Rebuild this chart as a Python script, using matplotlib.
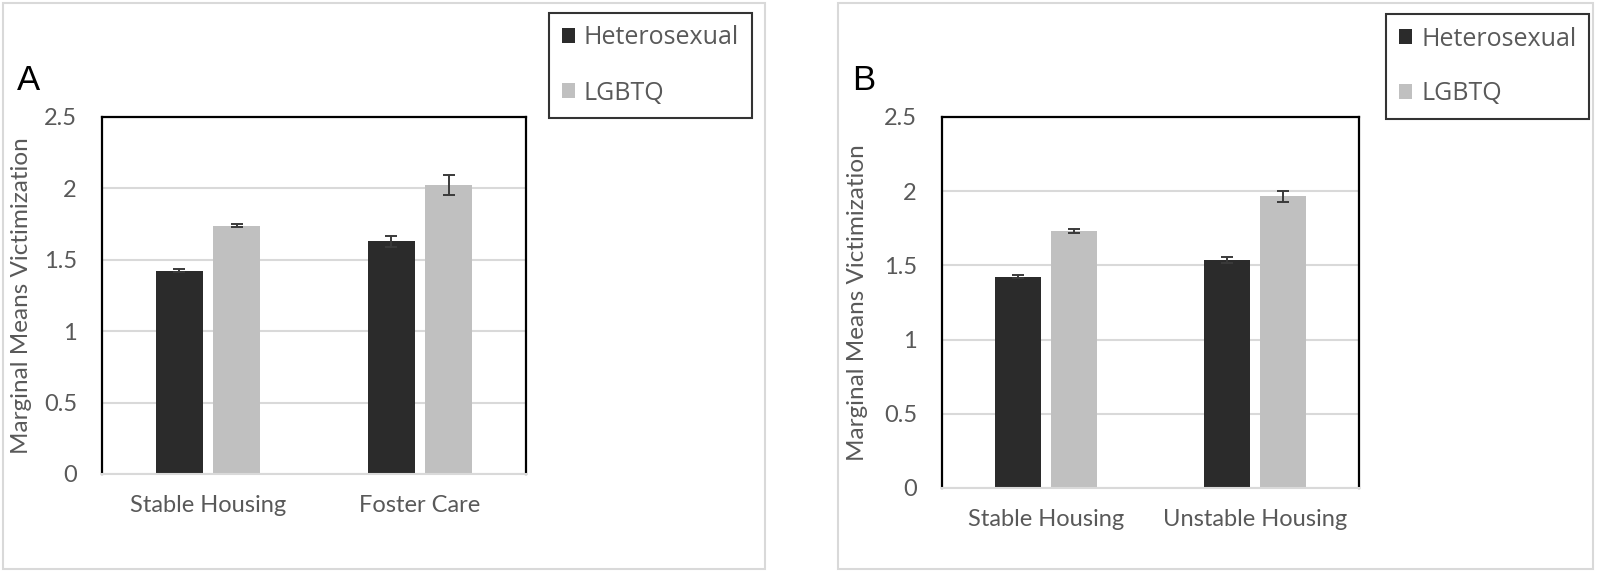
import numpy as np
import matplotlib
matplotlib.use("Agg")
import matplotlib.pyplot as plt
from matplotlib.patches import Rectangle

# data
groups = ["Heterosexual", "LGBTQ"]
catsA = ["Stable Housing", "Foster Care"]
heteroA = [1.425, 1.63]
heteroA_err = [0.008, 0.04]
lgbtqA = [1.74, 2.025]
lgbtqA_err = [0.012, 0.068]

catsB = ["Stable Housing", "Unstable Housing"]
heteroB = [1.425, 1.535]
heteroB_err = [0.008, 0.022]
lgbtqB = [1.73, 1.965]
lgbtqB_err = [0.012, 0.035]

yticks = [0, 0.5, 1, 1.5, 2, 2.5]
yticklabels = ["0", "0.5", "1", "1.5", "2", "2.5"]

dark = "#2b2b2b"
light = "#c0c0c0"
grid = "#d9d9d9"
txt = "#595959"
font = "Lato"

W, H = 1600, 573
fig = plt.figure(figsize=(16, 5.73), dpi=100)


def px(x0, y0, x1, y1):
    # pixel box (top-left origin) -> figure fraction rect
    return [x0 / W, 1 - y1 / H, (x1 - x0) / W, (y1 - y0) / H]


def panel(rect, cats, het, het_err, lgb, lgb_err, frame, legbox, ylab_x):
    # light outer frame round the panel
    fx0, fy0, fx1, fy1 = frame
    fig.patches.append(Rectangle((fx0 / W, 1 - fy1 / H), (fx1 - fx0) / W, (fy1 - fy0) / H,
                                 transform=fig.transFigure, fill=False,
                                 edgecolor=grid, lw=1.5))
    ax = fig.add_axes(px(*rect))
    x = np.arange(len(cats))
    w = 0.22
    off = 0.135
    ax.bar(x - off, het, w, color=dark, label=groups[0], zorder=2)
    ax.bar(x + off, lgb, w, color=light, label=groups[1], zorder=2)
    ax.errorbar(x - off, het, yerr=het_err, fmt="none", ecolor="#3a3a3a",
                elinewidth=1.4, capsize=4, capthick=1.4, zorder=3)
    ax.errorbar(x + off, lgb, yerr=lgb_err, fmt="none", ecolor="#3a3a3a",
                elinewidth=1.4, capsize=4, capthick=1.4, zorder=3)
    ax.set_xlim(-0.5, len(cats) - 0.5)
    ax.set_ylim(0, 2.5)
    ax.set_yticks(yticks)
    ax.set_yticklabels(yticklabels, fontsize=17, color=txt, family=font)
    ax.set_xticks(x)
    ax.set_xticklabels(cats, fontsize=17, color=txt, family=font)
    ax.tick_params(axis="both", length=0)
    ax.tick_params(axis="y", pad=18)
    ax.tick_params(axis="x", pad=15)
    ax.yaxis.grid(True, color=grid, lw=1.5, zorder=0)
    ax.set_axisbelow(True)
    for s in ["left", "top", "right"]:
        ax.spines[s].set_color("black")
        ax.spines[s].set_linewidth(1.6)
    ax.spines["bottom"].set_color(grid)
    ax.spines["bottom"].set_linewidth(1.5)
    ax.set_ylabel("Marginal Means Victimization", fontsize=17.5, color=txt, family=font)
    ax.yaxis.set_label_coords(ylab_x, 0.5)

    lx0, ly0, lx1, ly1 = legbox
    leg = fig.legend(handles=ax.get_legend_handles_labels()[0], labels=groups,
                     loc="upper left", bbox_to_anchor=(lx0 / W, 1 - ly0 / H),
                     bbox_transform=fig.transFigure,
                     prop={"family": "Open Sans", "size": 18}, labelcolor=txt,
                     frameon=True, fancybox=False, edgecolor="black",
                     handlelength=0.55, handleheight=0.55, handletextpad=0.35,
                     labelspacing=1.2, borderpad=0.5, borderaxespad=0)
    leg.get_frame().set_linewidth(1.5)
    return ax


axA = panel((102, 117, 526, 474), catsA, heteroA, heteroA_err, lgbtqA, lgbtqA_err,
            (3, 3, 765, 569), (549, 13, 739, 111), -0.165)
axB = panel((942, 117, 1359, 488), catsB, heteroB, heteroB_err, lgbtqB, lgbtqB_err,
            (838, 3, 1593, 569), (1386, 14, 1575, 108), -0.177)

fig.text(28 / W, 1 - 80 / H, "A", fontsize=25, family="Liberation Sans",
         ha="center", va="center", color="black")
fig.text(864 / W, 1 - 80 / H, "B", fontsize=25, family="Liberation Sans",
         ha="center", va="center", color="black")

fig.savefig("out.png", dpi=100, facecolor="white")
